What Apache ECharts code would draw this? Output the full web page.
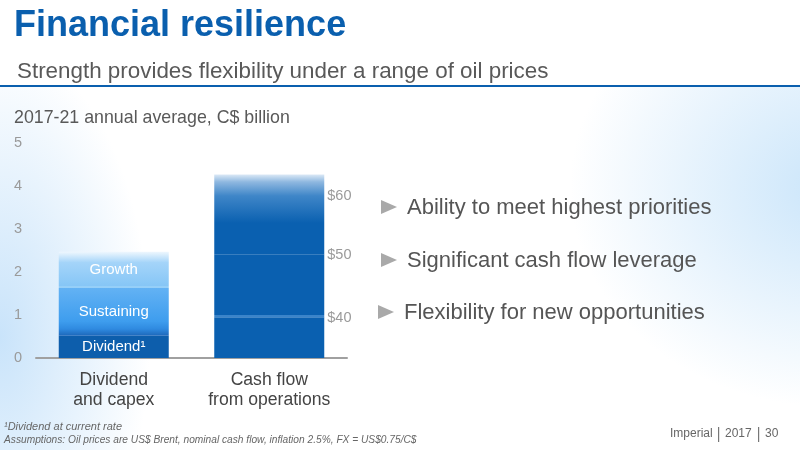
<!DOCTYPE html>
<html>
<head>
<meta charset="utf-8">
<script src="https://cdn.jsdelivr.net/npm/echarts@6/dist/echarts.min.js"></script>
<style>
html,body{margin:0;padding:0;width:800px;height:450px;overflow:hidden;background:#fff;}
#bg{position:absolute;left:0;top:87px;width:800px;height:363px;
background:
 radial-gradient(ellipse 150px 290px at 0px 250px, rgba(198,226,250,0.95), rgba(255,255,255,0)),
 radial-gradient(ellipse 260px 220px at 830px 100px, rgba(200,228,250,0.95), rgba(255,255,255,0)),
 #fff;}
#chart{position:absolute;left:0;top:0;width:800px;height:450px;}
</style>
</head>
<body>
<div id="bg"></div>
<div id="chart"></div>
<script>
// ---- data ----
var categories = ['Dividend\nand capex', 'Cash flow\nfrom operations'];
var yTicks = [0, 1, 2, 3, 4, 5];
var seg1 = [0.52, 0.95];   // Dividend / $40
var seg2 = [1.11, 1.45];   // Sustaining / $50
var seg3 = [0.84, 1.37];   // Growth / $60
var seg4 = [0, 0.50];      // upside above $60
var leftLabels = ['Dividend\u00B9', 'Sustaining', 'Growth'];
var priceLabels = ['$40', '$50', '$60'];
var bullets = ['Ability to meet highest priorities', 'Significant cash flow leverage', 'Flexibility for new opportunities'];
var footer = ['Imperial', '2017', '30'];

var FONT = '"Liberation Sans", Arial, Helvetica, sans-serif';
var DARK = '#0a60b0';

function grad(stops){
  return new echarts.graphic.LinearGradient(0,0,0,1, stops.map(function(s){return {offset:s[0], color:s[1]};}));
}
var inLabel = function(t){ return {show:true, position:'inside', formatter:t, color:'#ffffff', fontSize:15, fontFamily:FONT}; };
var priceLabel = function(t, dy){ return {show:true, position:['100%',0], offset:[3,dy], align:'left', verticalAlign:'middle', formatter:t, color:'#9a9a9a', fontSize:14.5, fontFamily:FONT}; };

var chart = echarts.init(document.getElementById('chart'), null, {renderer:'canvas'});

var extra = [];
var bY = [207, 260, 312], bX = [381, 381, 378];
bullets.forEach(function(t,i){
  extra.push({type:'polygon', shape:{points:[[bX[i],bY[i]-7],[bX[i],bY[i]+7],[bX[i]+16,bY[i]]]}, style:{fill:'#a9a9a9'}});
  extra.push({type:'text', left:bX[i]+26, top:bY[i]-10, style:{text:t, fill:'#555555', font:'22px '+FONT}});
});
var fX = [670, 725, 765];
footer.forEach(function(t,i){
  extra.push({type:'text', left:fX[i], top:428, style:{text:t, fill:'#666666', font:'12px '+FONT}});
});
extra.push({type:'rect', shape:{x:718,y:427,width:1.2,height:15}, style:{fill:'#777777'}});
extra.push({type:'rect', shape:{x:758,y:427,width:1.2,height:15}, style:{fill:'#777777'}});

chart.setOption({
  backgroundColor:'transparent',
  animation:false,
  title:[
    {text:'Financial resilience', left:9, top:3, textStyle:{color:'#0a5fae', fontSize:36, fontWeight:'bold', fontFamily:FONT, letterSpacing:-0.1}},
    {text:'Strength provides flexibility under a range of oil prices', left:12, top:56, textStyle:{color:'#595959', fontSize:22.4, fontWeight:'normal', fontFamily:FONT}},
    {text:'2017-21 annual average, C$ billion', left:9, top:104, textStyle:{color:'#595959', fontSize:17.8, fontWeight:'normal', fontFamily:FONT}}
  ],
  graphic:[
    {type:'rect', shape:{x:0,y:85,width:800,height:2}, style:{fill:'#0a5fae'}},
    {type:'text', left:4, top:421, style:{text:'\u00B9Dividend at current rate', fill:'#666666', font:'italic 11px '+FONT}},
    {type:'text', left:4, top:435, style:{text:'Assumptions: Oil prices are US$ Brent, nominal cash flow, inflation 2.5%, FX = US$0.75/C$', fill:'#666666', font:'italic 10.2px '+FONT}}
  ].concat(extra),
  grid:{left:36, right:453, top:143, bottom:92, containLabel:false},
  xAxis:{
    type:'category', data:categories,
    axisLine:{lineStyle:{color:'#a0a0a0', width:2}},
    axisTick:{show:false},
    axisLabel:{interval:0, hideOverlap:false, color:'#444444', fontSize:17.6, lineHeight:20, margin:12, fontFamily:FONT}
  },
  yAxis:{
    type:'value', min:yTicks[0], max:yTicks[yTicks.length-1], interval:1,
    axisLine:{show:false}, axisTick:{show:false}, splitLine:{show:false},
    axisLabel:{color:'#9a9a9a', fontSize:14.5, margin:14, fontFamily:FONT}
  },
  series:[
    {type:'bar', stack:'s', barWidth:110, data:[
      {value:seg1[0], itemStyle:{color:'#0d5eac'}, label:inLabel(leftLabels[0])},
      {value:seg1[1], itemStyle:{color:DARK}, label:priceLabel(priceLabels[0], 1)}
    ]},
    {type:'bar', stack:'s', barWidth:110, data:[
      {value:seg2[0], itemStyle:{color:grad([[0,'#63b2f4'],[0.7,'#3e9dee'],[0.86,'#2f8ae0'],[1,'#1d68ba']])}, label:inLabel(leftLabels[1])},
      {value:seg2[1], itemStyle:{color:grad([[0,DARK],[0.97,DARK],[0.97,'#3a84ca'],[1,'#3a84ca']])}, label:priceLabel(priceLabels[1], 0)}
    ]},
    {type:'bar', stack:'s', barWidth:110, data:[
      {value:seg3[0], itemStyle:{color:grad([[0,'#eef7fe'],[0.3,'#a4d4f9'],[0.95,'#86c6f6'],[0.95,'#96cff8'],[1,'#96cff8']])}, label:inLabel(leftLabels[2])},
      {value:seg3[1], itemStyle:{color:grad([[0,'#3f86c8'],[0.46,DARK],[1,DARK]])}, label:priceLabel(priceLabels[2], 0)}
    ]},
    {type:'bar', stack:'s', barWidth:110, data:[
      {value:seg4[0], itemStyle:{color:'#ffffff'}},
      {value:seg4[1], itemStyle:{color:grad([[0,'#dce9f6'],[0.35,'#8fb8e0'],[1,'#3f86c8']])}}
    ]}
  ]
});
</script>
</body>
</html>
